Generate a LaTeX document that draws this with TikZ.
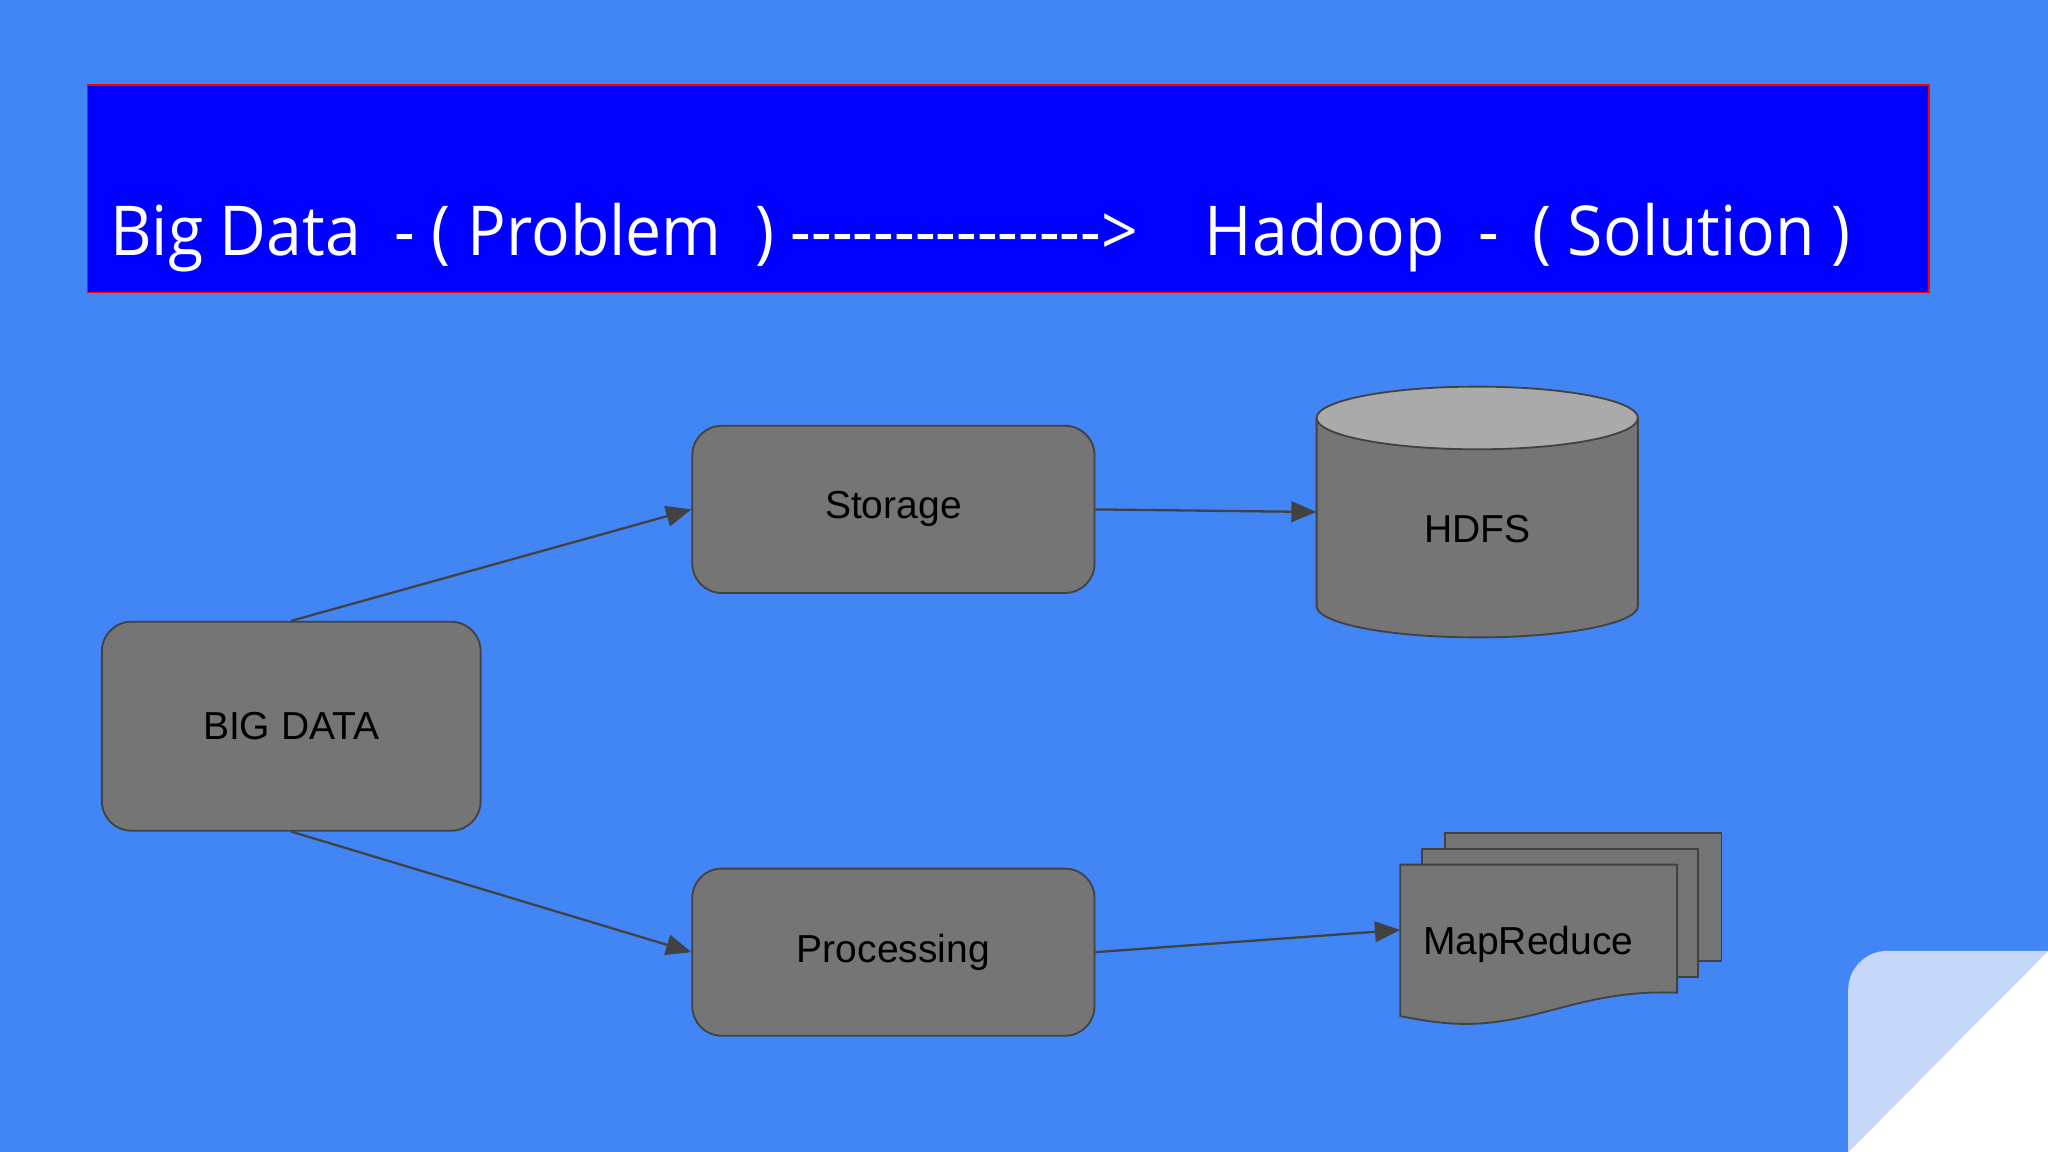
\documentclass[tikz,border=0pt]{standalone}
\usepackage{fontspec}
\setmainfont{Liberation Sans}
\newfontfamily\bannerfont{Open Sans}
\usetikzlibrary{arrows.meta}
\definecolor{bg}{RGB}{66,133,244}
\definecolor{boxg}{RGB}{117,117,117}
\definecolor{edge}{RGB}{66,66,66}
\definecolor{fold}{RGB}{197,216,250}
\definecolor{topg}{RGB}{170,170,170}
\def\hy{-\kern0pt}
\begin{document}
\begin{tikzpicture}[x=0.02cm,y=-0.02cm,
 box/.style={draw=edge,fill=boxg,rounded corners=0.45cm,line width=0.8pt,font=\fontsize{17}{20}\selectfont,text=black},
 lbl/.style={yshift=-2pt},
 arr/.style={draw=edge,line width=1pt,-{Triangle[length=11pt,width=9pt]}},
 shp/.style={draw=edge,fill=boxg,line width=0.8pt}]
\fill[bg] (0,0) rectangle (1568,882);
\useasboundingbox (0,0) rectangle (1568,882);
% banner
\draw[draw=red,fill=blue,line width=0.8pt] (67,65) rectangle (1477,224);
\node[anchor=west,text=white,font=\bannerfont\fontsize{30}{36}\selectfont,inner sep=0,xscale=0.934] (title) at (84,182)
 {Big Data\ \ - ( Problem\ \ ) \hy\hy\hy\hy\hy\hy\hy\hy\hy\hy\hy\hy\hy\hy\hy>\ \ \ \ Hadoop\ \ -\ \ ( Solution )};
% corner fold
\fill[white] (1568,728) -- (1568,882) -- (1415,882) -- cycle;
\fill[fold] (1568,728) -- (1445,728) to[out=180,in=90] (1415,758) -- (1415,882) -- cycle;
% boxes
\node[box,minimum width=5.8cm,minimum height=3.2cm] (big) at (223,556) {BIG DATA};
\node[box,minimum width=6.16cm,minimum height=2.56cm] (sto) at (684,390) {\raisebox{-3pt}{Storage}};
\node[box,minimum width=6.16cm,minimum height=2.56cm] (pro) at (684,729) {\raisebox{-3pt}{Processing}};
% cylinder
\draw[shp] (1008,320) -- (1008,464) arc[start angle=180,end angle=0,x radius=123,y radius=24] -- (1254,320);
\draw[draw=edge,fill=topg,line width=0.8pt] (1131,320) ellipse[x radius=123,y radius=24];
\node[font=\fontsize{17}{20}\selectfont] (hdfs) at (1131,405) {HDFS};
\coordinate (hdfsL) at (1008,392);
% mapreduce documents
\draw[shp] (1106,638) rectangle (1318,736);
\draw[shp] (1089,650) rectangle (1300,748);
\draw[shp] (1072,662) -- (1284,662) -- (1284,760) .. controls (1230,758) and (1200,772) .. (1160,780) .. controls (1120,788) and (1095,782) .. (1072,778) -- cycle;
\node[font=\fontsize{17}{20}\selectfont] (mr) at (1170,723) {MapReduce};
\coordinate (mrL) at (1072,712);
% arrows
\draw[arr] (big.north) -- (sto.west);
\draw[arr] (big.south) -- (pro.west);
\draw[arr] (sto.east) -- (hdfsL);
\draw[arr] (pro.east) -- (mrL);
\end{tikzpicture}
\end{document}
